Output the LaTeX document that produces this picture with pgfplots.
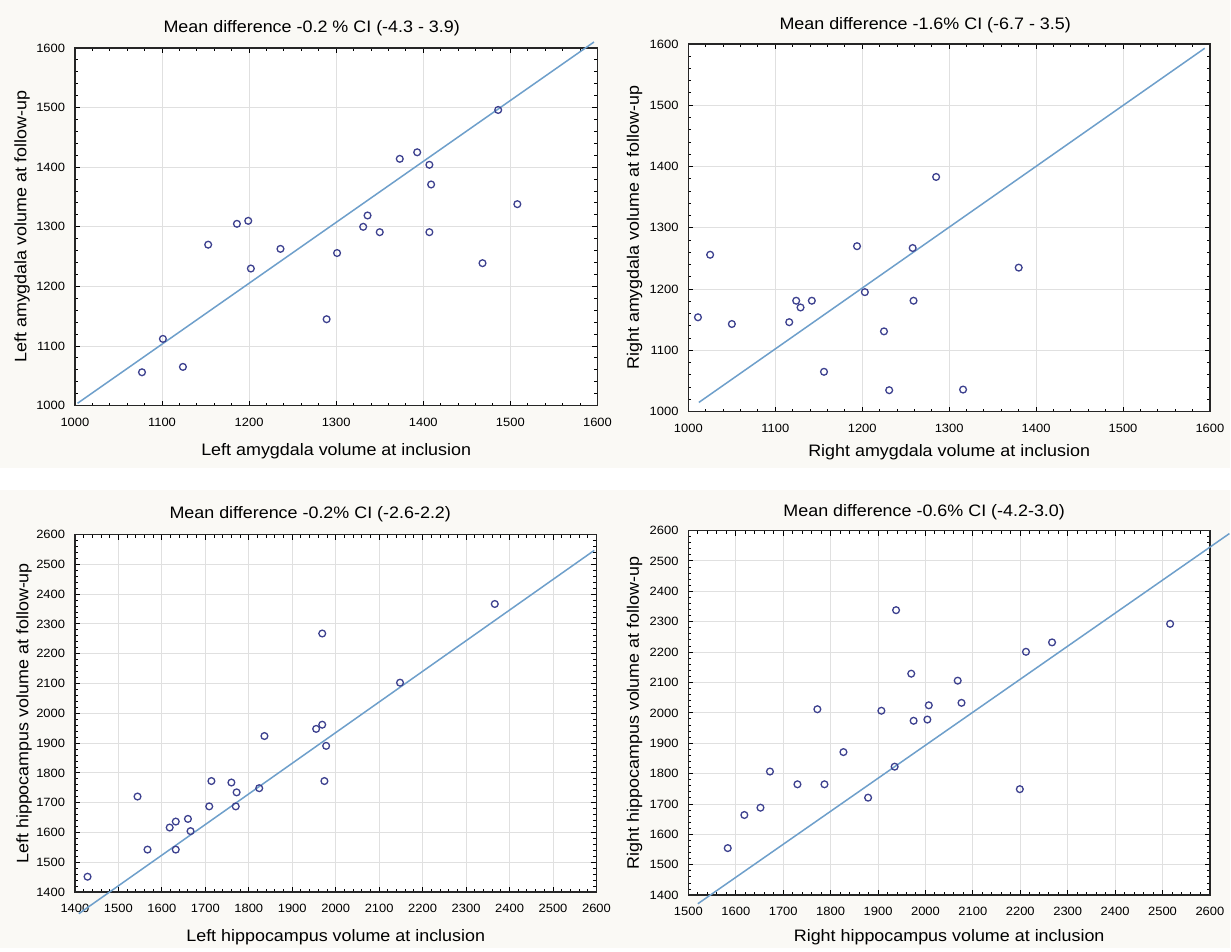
\documentclass[border=0pt]{standalone}
\usepackage{fontspec}
\setmainfont{Liberation Sans}[FakeStretch=1.08]
\usepackage{pgfplots}
\pgfplotsset{compat=1.18}
\definecolor{bgpage}{HTML}{FAF9F5}
\definecolor{fitline}{HTML}{6E9FCB}
\definecolor{dotcol}{HTML}{3D418F}
\newcommand{\lblfont}{\fontsize{8.3}{10}\selectfont}
\pgfplotsset{
    panel/.style={
        scale only axis, clip=false,
        axis background/.style={fill=white},
        axis line style={black!85, line width=0.8pt},
        grid=major, major grid style={black!12, line width=0.5pt},
        minor tick num=4,
        tick align=inside,
        major tick length=2.5pt, minor tick length=1.5pt,
        tick style={black, line width=0.5pt},
        tick label style={font=\fontsize{6}{7}\selectfont},
        /pgf/number format/assume math mode=true,
        /pgf/number format/1000 sep={},
        xticklabel style={yshift=-2.6pt},
        yticklabel style={xshift=-1.4pt},
        every axis y label/.style={rotate=90, anchor=center, font=\lblfont},
        every axis x label/.style={anchor=center, font=\lblfont},
    },
    dots/.style={only marks, mark=o, dotcol, mark size=1.7pt, mark options={line width=0.65pt}},
    fit/.style={fitline, line width=0.75pt, no markers},
}
\begin{document}
\begin{tikzpicture}
\fill[bgpage] (0,0) rectangle (615.5pt,-474.5pt);
\fill[white] (0,-234pt) rectangle (615.5pt,-245pt);

% left amygdala
\begin{axis}[panel,
    at={(37.5pt,-203pt)}, anchor=south west,
    width=261.5pt, height=179pt,
    xmin=1000, xmax=1600, ymin=1000, ymax=1600,
    xtick={1000,1100,...,1600}, ytick={1000,1100,...,1600},
    xlabel={Left amygdala volume at inclusion},
    ylabel={Left amygdala volume at follow-up},
    xlabel style={at={(axis description cs:0.5,-0.1285)}},
    ylabel style={at={(axis description cs:-0.101,0.5)}},
]
\addplot[fit] coordinates {(1003,1004) (1596,1610)};
\addplot[dots] coordinates {
(1077,1056) (1101,1112) (1124,1065) (1153,1270) (1186,1305) (1199,1310) (1202,1230)
(1236,1263) (1289,1145) (1301,1256) (1331,1300) (1336,1319) (1350,1291) (1373,1414)
(1393,1425) (1407,1404) (1409,1371) (1407,1291) (1468,1239) (1486,1496) (1508,1338)};
\end{axis}

% right amygdala
\begin{axis}[panel,
    at={(344.5pt,-206pt)}, anchor=south west,
    width=261pt, height=184pt,
    xmin=1000, xmax=1600, ymin=1000, ymax=1600,
    xtick={1000,1100,...,1600}, ytick={1000,1100,...,1600},
    xlabel={Right amygdala volume at inclusion},
    ylabel={Right amygdala volume at follow-up},
    xlabel style={at={(axis description cs:0.5,-0.1114)}},
    ylabel style={at={(axis description cs:-0.1034,0.5)}},
]
\addplot[fit] coordinates {(1012,1015) (1594,1593)};
\addplot[dots] coordinates {
(1011,1154) (1025,1256) (1050,1143) (1116,1146) (1124,1181) (1129,1170) (1142,1181)
(1156,1065) (1194,1270) (1203,1195) (1225,1131) (1231,1035) (1258,1267) (1259,1181)
(1285,1383) (1316,1036) (1380,1235)};
\end{axis}

% left hippocampus
\begin{axis}[panel,
    at={(37.5pt,-446.5pt)}, anchor=south west,
    width=261pt, height=179pt,
    xmin=1400, xmax=2600, ymin=1400, ymax=2600,
    xtick={1400,1500,...,2600}, ytick={1400,1500,...,2600},
    xlabel={Left hippocampus volume at inclusion},
    ylabel={Left hippocampus volume at follow-up},
    xlabel style={at={(axis description cs:0.5,-0.1257)}},
    ylabel style={at={(axis description cs:-0.0977,0.5)}},
]
\addplot[fit] coordinates {(1409,1328) (2595,2547)};
\addplot[dots] coordinates {
(1429,1452) (1544,1721) (1567,1543) (1618,1617) (1632,1637) (1632,1543) (1660,1646)
(1666,1605) (1709,1688) (1714,1773) (1760,1768) (1770,1688) (1772,1735) (1824,1749)
(1836,1924) (1955,1948) (1969,1962) (1969,2268) (1978,1891) (1974,1773) (2148,2103)
(2366,2367)};
\end{axis}

% right hippocampus
\begin{axis}[panel,
    at={(344.5pt,-448pt)}, anchor=south west,
    width=261pt, height=182.5pt,
    xmin=1500, xmax=2600, ymin=1400, ymax=2600,
    xtick={1500,1600,...,2600}, ytick={1400,1500,...,2600},
    xlabel={Right hippocampus volume at inclusion},
    ylabel={Right hippocampus volume at follow-up},
    xlabel style={at={(axis description cs:0.5,-0.115)}},
    ylabel style={at={(axis description cs:-0.1034,0.5)}},
]
\addplot[fit] coordinates {(1520,1372) (2641,2590)};
\addplot[dots] coordinates {
(1583,1555) (1618,1664) (1652,1688) (1672,1807) (1730,1765) (1772,2012) (1787,1765)
(1827,1871) (1879,1721) (1907,2007) (1935,1823) (1938,2338) (1970,2129) (1975,1974)
(2004,1978) (2007,2025) (2068,2106) (2076,2033) (2199,1749) (2212,2201) (2267,2232)
(2516,2293)};
\end{axis}

\node[font=\lblfont] at (156pt,-14pt) {Mean difference -0.2 \% CI (-4.3 - 3.9)};
\node[font=\lblfont] at (463pt,-12.5pt) {Mean difference -1.6\% CI (-6.7 - 3.5)};
\node[font=\lblfont] at (155.25pt,-257.5pt) {Mean difference -0.2\% CI (-2.6-2.2)};
\node[font=\lblfont] at (462.5pt,-256.2pt) {Mean difference -0.6\% CI (-4.2-3.0)};
\end{tikzpicture}
\end{document}
